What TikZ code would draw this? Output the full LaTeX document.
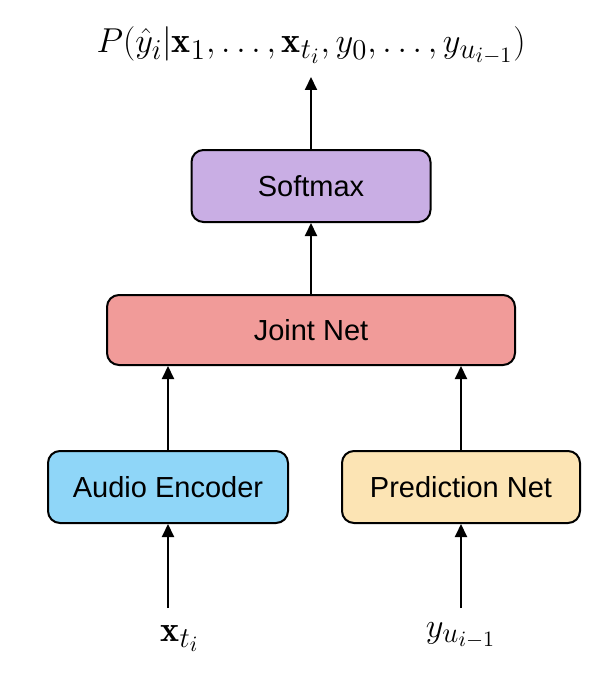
\documentclass[tikz,border=0pt]{standalone}
\usepackage{fontspec}
\usepackage{amsmath}
\usetikzlibrary{arrows.meta, positioning}
\newfontfamily\boxfont{Liberation Sans}
\DeclareMathSizes{18}{18}{13.5}{11}
\definecolor{softmaxfill}{HTML}{C9AEE4}
\definecolor{jointfill}{HTML}{F19B99}
\definecolor{audiofill}{HTML}{8FD6F8}
\definecolor{predfill}{HTML}{FCE4B4}
\tikzset{
  box/.style={rectangle, draw, line width=1pt, rounded corners=6pt, minimum height=36pt, align=center, font=\boxfont\fontsize{14.5}{17}\selectfont},
  arrow/.style={-{Triangle[width=6pt,length=6.5pt]}, line width=1pt},
  lbl/.style={inner sep=0pt, font=\fontsize{18}{21}\selectfont},
}

\begin{document}
\begin{tikzpicture}
    \useasboundingbox (0,0) rectangle (302pt,-345pt);
    \node[box, minimum width=119.5pt, fill=softmaxfill] (softmax) at (155.5pt,-93pt) {Softmax};
    \node[box, minimum width=204pt, minimum height=35pt, below=35.5pt of softmax, fill=jointfill] (joint) {Joint Net};
    \node[box, minimum width=120pt, below=42pt of joint.south, xshift=-71.5pt, fill=audiofill] (audio) {Audio Encoder};
    \node[box, minimum width=119pt, below=42pt of joint.south, xshift=75pt, fill=predfill] (pred) {Prediction Net};
    \node[lbl, anchor=base] (prob) at (155.5pt,-26.5pt) {$P(\hat{y}_i|\mathbf{x}_1,\ldots,\mathbf{x}_{t_i},y_0,\ldots,y_{u_{i-1}})$};
    \coordinate (out) at ([yshift=36pt]softmax.north);
    \coordinate (xin) at ([yshift=-42pt]audio.south);
    \coordinate (yin) at ([yshift=-42pt]pred.south);
    \node[lbl, below=8.5pt of xin, xshift=6pt] (xt) {$\mathbf{x}_{t_i}$};
    \node[lbl, below=7pt of yin] (yu) {$y_{u_{i-1}}$};
    \draw[arrow] (xin) -- (audio);
    \draw[arrow] (yin) -- (pred);
    \draw[arrow] (audio) -- (audio |- joint.south);
    \draw[arrow] (pred) -- (pred |- joint.south);
    \draw[arrow] (joint) -- (softmax);
    \draw[arrow] (softmax) -- (out);
  \end{tikzpicture}
\end{document}
